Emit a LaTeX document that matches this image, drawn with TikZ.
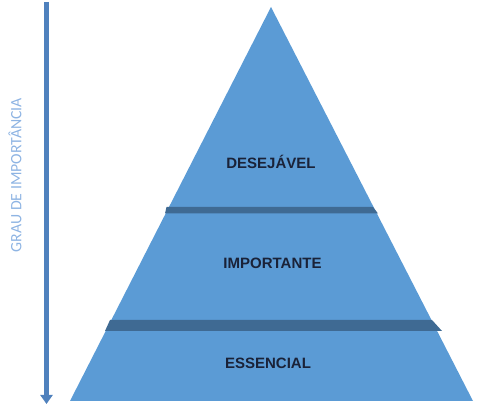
\documentclass[tikz,border=0pt]{standalone}
\usepackage{fontspec}
\setmainfont{Liberation Sans}
\newfontfamily\labelfont{Carlito}
\usetikzlibrary{arrows.meta}
\definecolor{pyrfill}{HTML}{5B9BD5}
\definecolor{bandfill}{HTML}{3F6A93}
\definecolor{arrowcol}{HTML}{4F81BD}
\definecolor{sidetext}{HTML}{8EB4E3}
\definecolor{leveltext}{HTML}{1A2238}
\tikzset{
  levellabel/.style={font=\fontsize{15}{15}\selectfont\bfseries, text=leveltext, inner sep=0pt, anchor=base},
  band/.style={fill=bandfill, draw=none},
}
\begin{document}
\begin{tikzpicture}[x=1pt,y=-1pt]
\useasboundingbox (0,0) rectangle (480,406);
% pyramid
\fill[pyrfill] (271,7) -- (473,401) -- (70,401) -- cycle;
% bands
\fill[band] (166.5,207) -- (373,207) -- (378,213.5) -- (165,213.5) -- cycle;
\fill[band] (110,320) -- (432,320) -- (442,331) -- (105,331) -- cycle;
% labels
\node[levellabel] (des) at (271,169) {DESEJÁVEL};
\node[levellabel] (imp) at (272.5,268.5) {IMPORTANTE};
\node[levellabel] (ess) at (268,368.5) {ESSENCIAL};
% arrow
\coordinate (atop) at (46.5,2);
\coordinate (abot) at (46.5,404);
\draw[arrowcol, line width=5pt, -{Triangle[width=12pt,length=9pt]}] (atop) -- (abot);
% side text
\node[rotate=90, text=sidetext, font=\labelfont\fontsize{15.8}{16}\selectfont, inner sep=0pt] (side) at (15,175) {GRAU DE IMPORTÂNCIA};
\end{tikzpicture}
\end{document}
